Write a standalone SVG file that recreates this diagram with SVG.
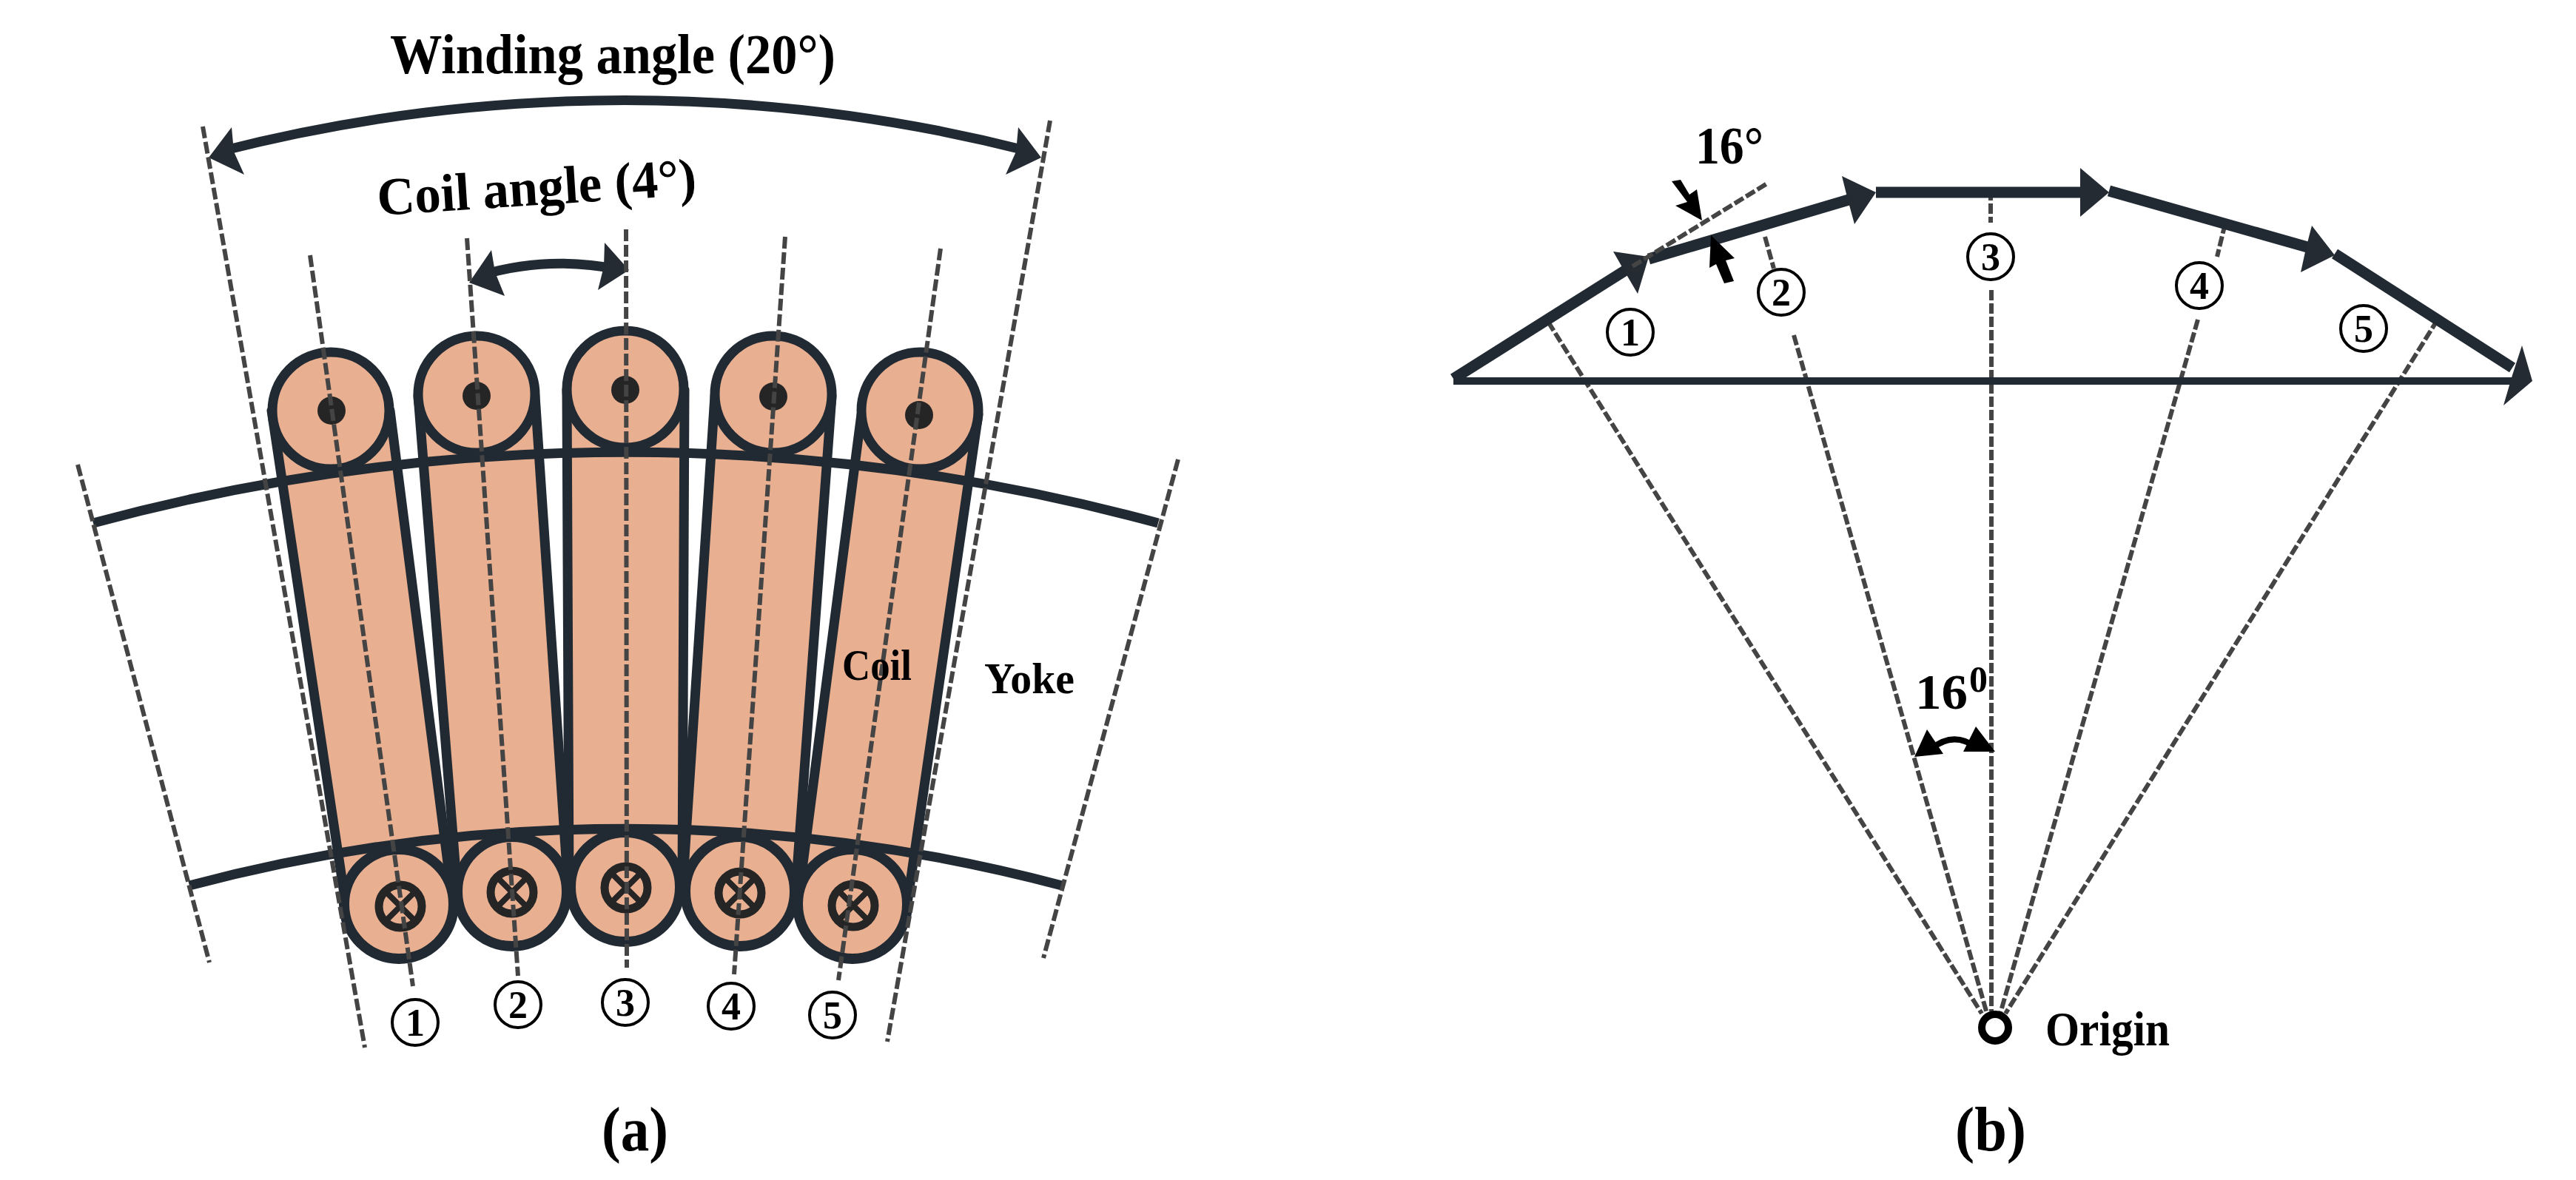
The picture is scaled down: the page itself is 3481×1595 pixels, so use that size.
<svg xmlns="http://www.w3.org/2000/svg" width="3481" height="1595" viewBox="0 0 3481 1595">
<style>
.t{font-family:"Liberation Serif","Times New Roman",serif;fill:#000}
.b{font-weight:bold}
.line{fill:none;stroke:#212A32;stroke-width:13}
.vec{fill:none;stroke:#212A32;stroke-width:15}
.base{fill:none;stroke:#212A32;stroke-width:10}
.tube{fill:#E9AF91;stroke:#212A32;stroke-width:13;stroke-linejoin:round}
.top{fill:#E9AF91;stroke:#212A32;stroke-width:13}
.bot{fill:#E9AF91;stroke:#212A32;stroke-width:14}
.dot{fill:#252525}
.cross{fill:none;stroke:#252525;stroke-width:11}
.x{stroke:#252525;stroke-width:8;fill:none}
.dash{fill:none;stroke:#444;stroke-width:6;stroke-dasharray:16 5}
.dashb{fill:none;stroke:#444;stroke-width:6;stroke-dasharray:14 4}
.num{fill:#fff;stroke:#000;stroke-width:4}
.head{fill:#242B33}
.blk{fill:#000}
.arcb{fill:none;stroke:#000;stroke-width:8}
</style>
<g id="panel-a">
<g id="winding-arrow">
<path class="line" d="M300 204 A2200 2200 0 0 1 1389 204"/>
<path class="head" d="M282 213 L313 172 L316 205 L330 236Z"/>
<path class="head" d="M1407 213 L1376 172 L1373 205 L1359 236Z"/>
</g>
<g id="coil-angle-arrow">
<path class="line" d="M650 372 Q740 345 835 364"/>
<path class="head" d="M634 382 L664 338 L669 368 L682 400Z"/>
<path class="head" d="M850 365 L817 328 L816 360 L808 392Z"/>
</g>
<g id="coils">
<g id="coil-1"><path class="tube" d="M367 555 L467 1221 L612 1221 L527 555Z"/></g>
<g id="coil-2"><path class="tube" d="M565 535 L618 1205 L768 1205 L723 535Z"/></g>
<g id="coil-3"><path class="tube" d="M766 527 L769 1199 L922 1199 L925 527Z"/></g>
<g id="coil-4"><path class="tube" d="M966 535 L922 1205 L1075 1205 L1124 535Z"/></g>
<g id="coil-5"><path class="tube" d="M1164 560 L1078 1221 L1226 1221 L1322 560Z"/></g>
</g>
<g id="yoke">
<path class="line" d="M126 707 A2748 2748 0 0 1 1565 707"/>
<path class="line" d="M256 1197 A2299 2299 0 0 1 1435 1197"/>
</g>
<g id="top-conductors">
<circle class="top" cx="447" cy="555" r="79"/><circle class="dot" cx="448" cy="555" r="19"/>
<circle class="top" cx="644" cy="533" r="79"/><circle class="dot" cx="644" cy="535" r="19"/>
<circle class="top" cx="845" cy="526" r="79"/><circle class="dot" cx="845" cy="527" r="19"/>
<circle class="top" cx="1045" cy="533" r="79"/><circle class="dot" cx="1045" cy="536" r="19"/>
<circle class="top" cx="1243" cy="555" r="79"/><circle class="dot" cx="1242" cy="561" r="19"/>
</g>
<g id="bottom-conductors">
<circle class="bot" cx="539" cy="1222" r="74"/>
<circle class="bot" cx="692" cy="1205" r="74"/>
<circle class="bot" cx="845" cy="1199" r="74"/>
<circle class="bot" cx="1000" cy="1205" r="74"/>
<circle class="bot" cx="1152" cy="1222" r="74"/>
<g id="cross-1"><circle class="cross" cx="541" cy="1225" r="29"/><path class="x" d="M520 1204 L562 1246 M562 1204 L520 1246"/></g>
<g id="cross-2"><circle class="cross" cx="692" cy="1206" r="29"/><path class="x" d="M671 1185 L713 1227 M713 1185 L671 1227"/></g>
<g id="cross-3"><circle class="cross" cx="846" cy="1200" r="29"/><path class="x" d="M825 1179 L867 1221 M867 1179 L825 1221"/></g>
<g id="cross-4"><circle class="cross" cx="1000" cy="1207" r="29"/><path class="x" d="M979 1186 L1021 1228 M1021 1186 L979 1228"/></g>
<g id="cross-5"><circle class="cross" cx="1153" cy="1224" r="29"/><path class="x" d="M1132 1203 L1174 1245 M1174 1203 L1132 1245"/></g>
</g>
<g id="axes-a">
<path class="dash" d="M274 171 L493 1416"/>
<path class="dash" d="M1419 163 L1199 1408"/>
<path class="dash" d="M105 628 L283 1301"/>
<path class="dash" d="M1592 621 L1410 1295"/>
<path class="dash" d="M419 345 L558 1333"/>
<path class="dash" d="M631 322 L700 1319"/>
<path class="dash" d="M846 310 L847 1308"/>
<path class="dash" d="M1061 320 L992 1317"/>
<path class="dash" d="M1271 336 L1133 1325"/>
</g>
<g id="numbers-a">
<circle class="num" cx="561" cy="1382" r="31"/><text class="t b" x="561" y="1400" font-size="52" text-anchor="middle">1</text>
<circle class="num" cx="700" cy="1358" r="31"/><text class="t b" x="700" y="1376" font-size="52" text-anchor="middle">2</text>
<circle class="num" cx="845" cy="1355" r="31"/><text class="t b" x="845" y="1373" font-size="52" text-anchor="middle">3</text>
<circle class="num" cx="988" cy="1360" r="31"/><text class="t b" x="988" y="1378" font-size="52" text-anchor="middle">4</text>
<circle class="num" cx="1125" cy="1372" r="31"/><text class="t b" x="1125" y="1390" font-size="52" text-anchor="middle">5</text>
</g>
<text class="t b" x="527" y="99" font-size="76" textLength="602" lengthAdjust="spacingAndGlyphs">Winding angle (20°)</text>
<text class="t b" transform="translate(511 291) rotate(-3.7)" font-size="72" textLength="432" lengthAdjust="spacingAndGlyphs">Coil angle (4°)</text>
<text class="t b" x="1138" y="919" font-size="60" textLength="94" lengthAdjust="spacingAndGlyphs">Coil</text>
<text class="t b" x="1330" y="937" font-size="60" textLength="122" lengthAdjust="spacingAndGlyphs">Yoke</text>
<text class="t b" x="813" y="1555" font-size="85" textLength="90" lengthAdjust="spacingAndGlyphs">(a)</text>
</g>
<g id="panel-b">
<g id="radial-lines">
<path class="dashb" d="M2092 435 L2678 1370"/>
<path class="dashb" d="M2385 320 L2397 363"/>
<path class="dashb" d="M2424 453 L2685 1370"/>
<path class="dashb" d="M2690 257 L2690 301"/>
<path class="dashb" d="M2691 392 L2691 1367"/>
<path class="dashb" d="M3007 302 L2996 347"/>
<path class="dashb" d="M2970 432 L2703 1370"/>
<path class="dashb" d="M3294 432 L2710 1370"/>
</g>
<g id="vectors">
<path class="base" d="M1964 515 L3395 515"/>
<path class="vec" d="M1964 512 L2205 360"/>
<path class="vec" d="M2228 350 L2505 268"/>
<path class="vec" d="M2535 260 L2815 260"/>
<path class="vec" d="M2850 258 L3125 336"/>
<path class="vec" d="M3155 343 L3395 497"/>
<path class="head" d="M3422 515 L3408 467 L3395 507 L3383 548Z"/>
<path class="head" d="M2228 347 L2180 340 L2196 368 L2213 397Z"/>
<path class="head" d="M2535 260 L2489 238 L2497 270 L2506 303Z"/>
<path class="head" d="M2850 260 L2811 227 L2811 293Z"/>
<path class="head" d="M3155 345 L3124 305 L3116 336 L3109 368Z"/>
</g>
<path id="tangent" class="dashb" d="M2206 360 L2388 248"/>
<g id="angle-16-marks">
<path class="blk" d="M2300 298 L2264 278 L2280 273 L2259 245 L2271 243 L2283 263 L2293 256Z"/>
<path class="blk" d="M2312 318 L2344 349 L2332 352 L2343 380 L2330 383 L2319 357 L2310 362Z"/>
<path class="arcb" d="M2610 1012 Q2640 988 2670 1010"/>
<path class="blk" d="M2587 1023 L2604 986 L2626 1019Z"/>
<path class="blk" d="M2696 1016 L2670 982 L2653 1016Z"/>
</g>
<g id="numbers-b">
<circle class="num" cx="2203" cy="449" r="31"/><text class="t b" x="2203" y="467" font-size="52" text-anchor="middle">1</text>
<circle class="num" cx="2407" cy="395" r="31"/><text class="t b" x="2407" y="413" font-size="52" text-anchor="middle">2</text>
<circle class="num" cx="2690" cy="347" r="31"/><text class="t b" x="2690" y="365" font-size="52" text-anchor="middle">3</text>
<circle class="num" cx="2972" cy="386" r="31"/><text class="t b" x="2972" y="404" font-size="52" text-anchor="middle">4</text>
<circle class="num" cx="3194" cy="444" r="31"/><text class="t b" x="3194" y="462" font-size="52" text-anchor="middle">5</text>
</g>
<g id="origin">
<circle cx="2696" cy="1389" r="18" fill="#fff" stroke="#000" stroke-width="10"/>
<text class="t b" x="2764" y="1413" font-size="66" textLength="168" lengthAdjust="spacingAndGlyphs">Origin</text>
</g>
<text class="t b" x="2291" y="221" font-size="72" textLength="92" lengthAdjust="spacingAndGlyphs">16°</text>
<text class="t b" x="2588" y="958" font-size="68" textLength="71" lengthAdjust="spacingAndGlyphs">16</text>
<text class="t b" x="2661" y="935" font-size="50" textLength="25" lengthAdjust="spacingAndGlyphs">0</text>
<text class="t b" x="2642" y="1555" font-size="85" textLength="96" lengthAdjust="spacingAndGlyphs">(b)</text>
</g>
</svg>
